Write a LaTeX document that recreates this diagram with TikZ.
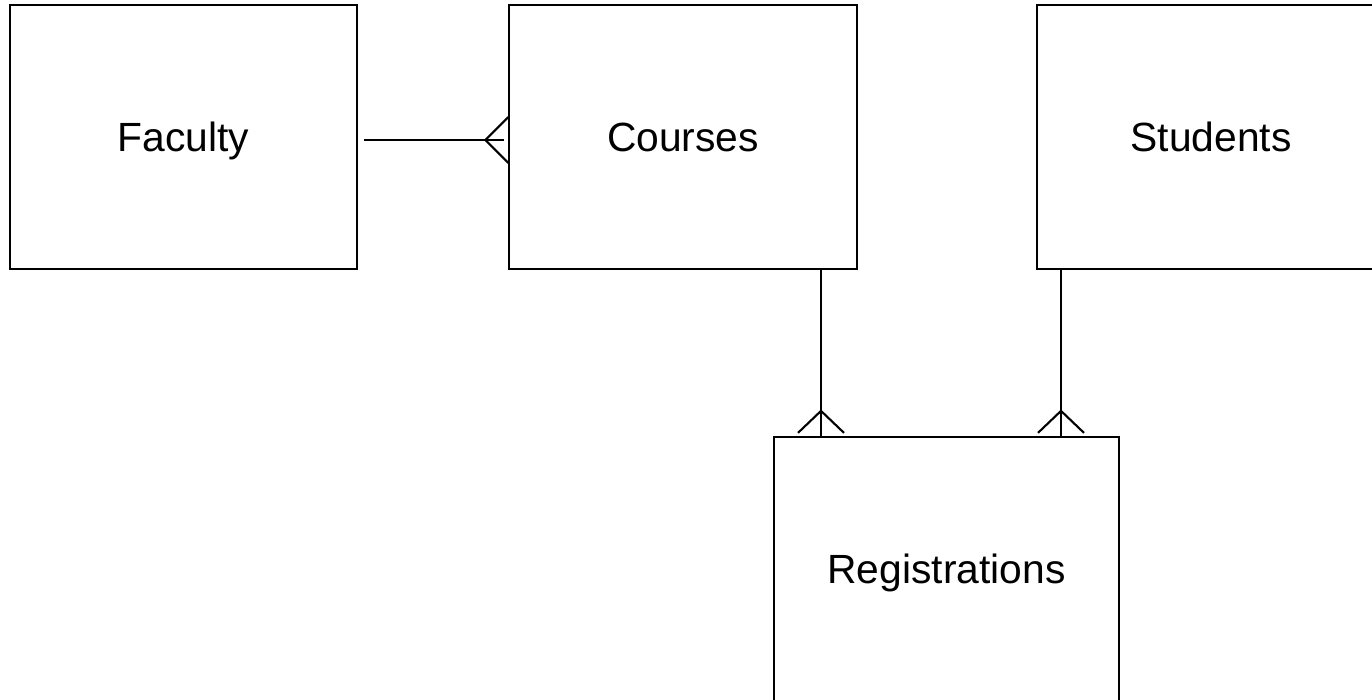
\documentclass[tikz,border=0pt]{standalone}
\usepackage{fontspec}
\setmainfont{Liberation Sans}
\usetikzlibrary{positioning}
\usetikzlibrary{calc}
\tikzstyle{entity}=[rectangle,draw,line width=0.6pt,minimum width=3.47cm,minimum height=2.64cm,inner sep=0pt,text depth=0pt,font=\fontsize{11.6}{14}\selectfont]
\tikzstyle{link} = [draw,line width=0.6pt]

\begin{document}
\begin{tikzpicture}[x=0.01cm, y=-0.01cm]
    \useasboundingbox (0,0) rectangle (1372,699);
    % First we draw the entities
    \foreach \pos/\name/\label in {{(183.5,137)/faculty/Faculty}, {(683,137)/courses/Courses}, {(1211,137)/students/Students}}
        \node[entity] (\name) at \pos {\label};
    \node[entity, minimum width=3.45cm] (regs) at (946.5,569) {Registrations};

    % Attach points of the connectors
    \coordinate (f1) at ($(faculty.east)+(6,3)$);
    \coordinate (c0) at ($(courses.west)+(0,3)$);
    \coordinate (c1) at ($(courses.south)+(138,0)$);
    \coordinate (s1) at ($(students.south)+(-150,0)$);

    % One side plain, the other side a crow's foot
    \path[link] (f1) -- ($(c0)+(-4,0)$);
    \path[link] ($(c0)+(0,-23)$) -- ($(c0)+(-23,0)$) -- ($(c0)+(0,23)$);
    \foreach \top in {c1, s1} {
        \path[link] (\top) -- (\top |- regs.north);
        \path[link] ($(\top |- regs.north)+(-23,-3)$) -- ($(\top |- regs.north)+(0,-25)$) -- ($(\top |- regs.north)+(23,-3)$);
    }
\end{tikzpicture}
\end{document}
